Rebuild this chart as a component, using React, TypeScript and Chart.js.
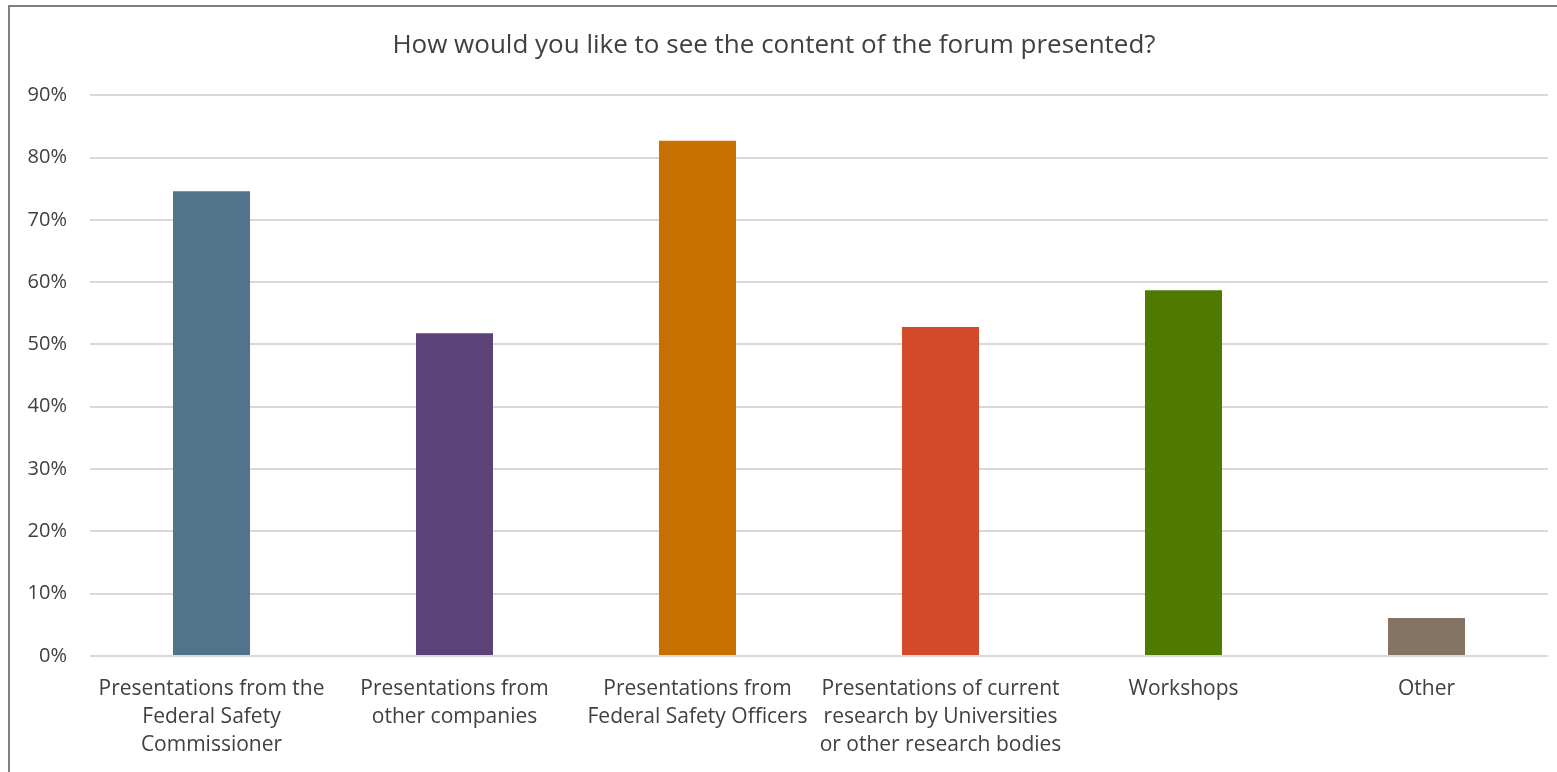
import React, { useEffect, useRef } from "react";
import { Chart, registerables } from "chart.js";

Chart.register(...registerables);

const categories: string[][] = [
  ["Presentations from the", "Federal Safety", "Commissioner"],
  ["Presentations from", "other companies"],
  ["Presentations from", "Federal Safety Officers"],
  ["Presentations of current", "research by Universities", "or other research bodies"],
  ["Workshops"],
  ["Other"],
];
const values: number[] = [74.6, 51.8, 82.7, 52.8, 58.7, 6.1];
const barColors: string[] = ["#51748A", "#5B4378", "#C87000", "#D34A2A", "#4E7A00", "#857464"];
const titleText = "How would you like to see the content of the forum presented?";

const FONT = "'Open Sans', Lato, sans-serif";

export default function App() {
  const ref = useRef<HTMLCanvasElement | null>(null);
  useEffect(() => {
    if (!ref.current) return;
    const chart = new Chart(ref.current, {
      type: "bar",
      data: {
        labels: categories,
        datasets: [
          {
            data: values,
            backgroundColor: barColors,
            categoryPercentage: 1,
            barPercentage: 0.317,
          },
        ],
      },
      options: {
        animation: false,
        responsive: false,
        maintainAspectRatio: false,
        layout: { padding: { left: 0, right: 9, top: 0, bottom: 0 } },
        plugins: {
          legend: { display: false },
          tooltip: { enabled: false },
          title: {
            display: true,
            text: titleText,
            color: "#404040",
            font: { family: FONT, size: 26, weight: "normal" },
            padding: { top: 30, bottom: 34 },
          },
        },
        scales: {
          x: {
            grid: { display: false, drawTicks: false },
            border: { display: false },
            ticks: {
              color: "#404040",
              font: { family: FONT, size: 21, lineHeight: 1.34 },
              padding: 19,
              maxRotation: 0,
              autoSkip: false,
            },
            afterFit: (scale: any) => {
              scale.height = 116;
            },
          },
          y: {
            min: 0,
            max: 90,
            grid: { color: "#D9D9D9", lineWidth: 2, drawTicks: false },
            border: { display: false },
            ticks: {
              stepSize: 10,
              color: "#404040",
              font: { family: FONT, size: 20 },
              padding: 23,
              callback: (v: any) => v + "%",
            },
            afterFit: (scale: any) => {
              scale.width = 90;
            },
          },
        },
      },
    });
    return () => chart.destroy();
  }, []);
  return (
    <div style={{ position: "absolute", left: 0, top: 0, width: 1557, height: 772, overflow: "hidden", background: "#fff" }}>
      <canvas ref={ref} width={1557} height={772} style={{ position: "absolute", left: 0, top: 0 }} />
      <div
        style={{
          position: "absolute",
          left: 8,
          top: 5,
          width: 1600,
          height: 800,
          borderLeft: "2px solid #808080",
          borderTop: "2px solid #808080",
          pointerEvents: "none",
        }}
      />
    </div>
  );
}
